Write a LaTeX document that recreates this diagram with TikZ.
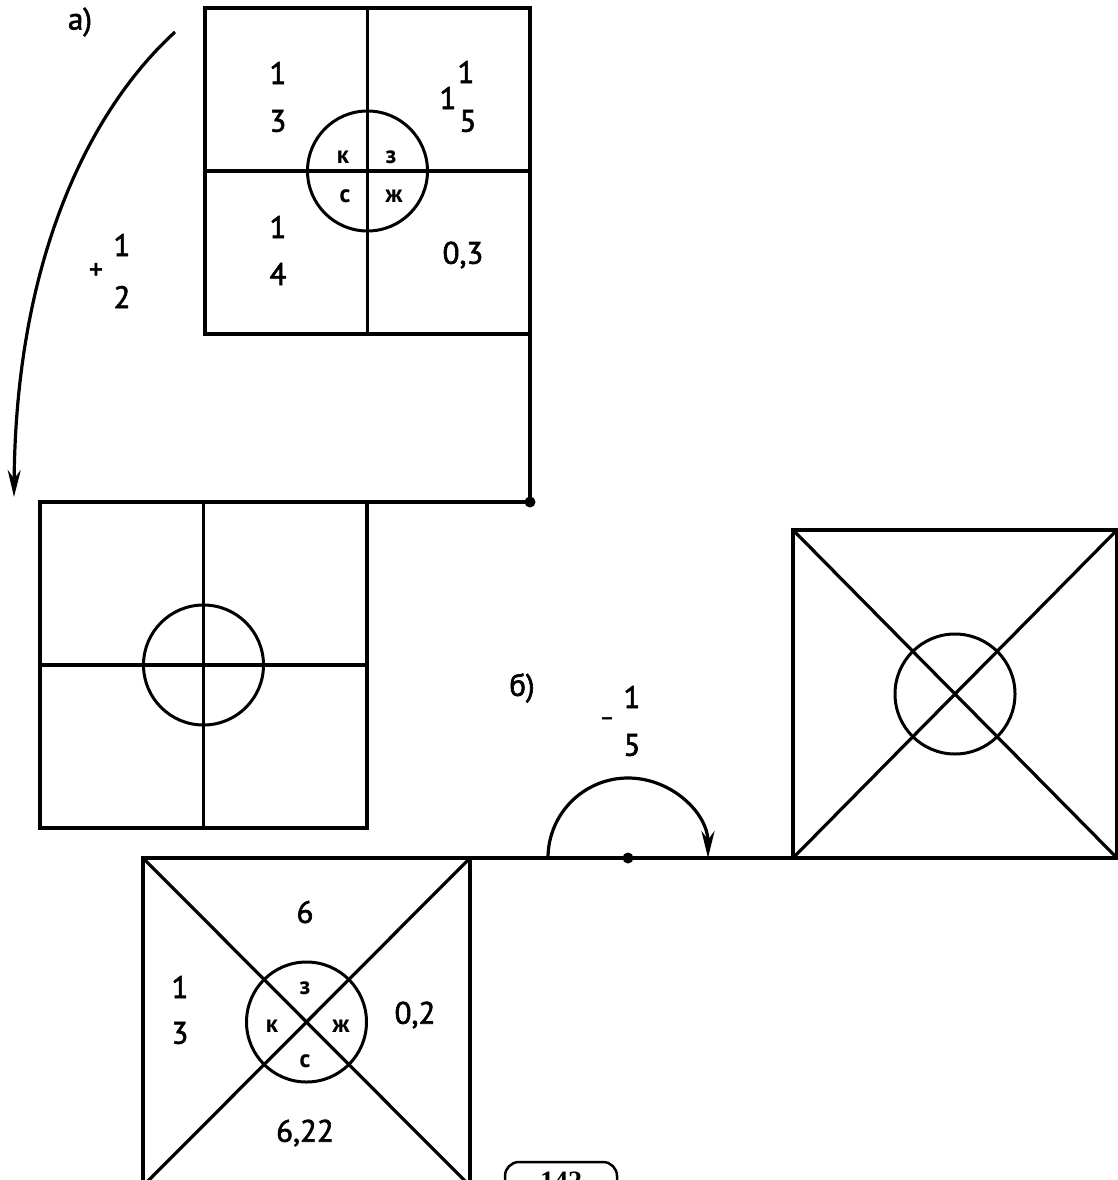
\documentclass[tikz,border=0pt]{standalone}
\usepackage{fontspec}
\setmainfont{PT Sans}
\newfontfamily\mfont[FakeBold=2]{PT Sans}
\newfontfamily\pnfont{Liberation Serif}
\usetikzlibrary{arrows.meta}
\begin{document}
\begin{tikzpicture}[x=1pt,y=-1pt,
  line width=3.2pt,
  sq/.style={draw, rectangle, inner sep=0pt, outer sep=0pt, line width=3.2pt},
  ring/.style={draw, circle, minimum size=120pt, inner sep=0pt, outer sep=0pt, line width=3pt},
  lbl/.style={font=\mfont\fontsize{31}{34}\selectfont, inner sep=0pt},
  let/.style={font=\fontsize{25}{28}\selectfont\bfseries, inner sep=0pt},
  tip/.style={-{Stealth[length=27pt,width=13pt]}}
]
\useasboundingbox (0,0) rectangle (1118,1180);
\clip (0,0) rectangle (1118,1180);

% ---------- a) ----------
\node[lbl] (la) at (80,22) {а)};

% box A
\node[sq, minimum width=325pt, minimum height=326pt] (A) at (367.5,171) {};
\draw (A.north) -- (A.south);
\draw (A.west) -- (A.east);
\node[ring] (Ac) at (A.center) {};
\node[lbl] (A1a) at (278,73) {1};
\node[lbl] (A1b) at (278,121) {3};
\node[lbl] (A2a) at (448,98) {1};
\node[lbl] (A2b) at (466,72) {1};
\node[lbl] (A2c) at (468,121) {5};
\node[lbl] (A3a) at (278,227) {1};
\node[lbl] (A3b) at (278,274) {4};
\node[lbl] (A4) at (463,255) {0,3};
\node[let] (Ak) at (343,157) {к};
\node[let] (Az) at (391,157) {з};
\node[let] (As) at (345,196) {с};
\node[let] (Aj) at (394,196) {ж};

% curved arrow + 1/2
\coordinate (s1) at (175,32);
\coordinate (e1) at (14,497);
\draw[tip] (s1) .. controls (95,105) and (16,250) .. (e1);
\node[lbl] (pl) at (96,271) {\fontsize{28}{30}\selectfont +};
\node[lbl] (pl1) at (122,245) {1};
\node[lbl] (pl2) at (122,297) {2};

% box B
\node[sq, minimum width=327pt, minimum height=326pt] (B) at (203.5,665) {};
\draw (B.north) -- (B.south);
\draw (B.west) -- (B.east);
\node[ring] (Bc) at (B.center) {};

% connector A -> B
\coordinate (j1) at (530,502);
\draw[line cap=rect] (A.south east) -- (j1) -- (B.north east);
\fill (j1) circle[radius=5.5pt];

% ---------- б) ----------
\node[lbl] (lb) at (522,688) {б)};
\node[lbl] (mi) at (607,721) {\fontsize{22}{24}\selectfont –};
\node[lbl] (mi1) at (632,697) {1};
\node[lbl] (mi2) at (632,745) {5};

% box D
\node[sq, minimum width=324pt, minimum height=328pt] (D) at (955,694) {};
\draw (D.north west) -- (D.south east);
\draw (D.north east) -- (D.south west);
\node[ring] (Dc) at (D.center) {};

% box C
\node[sq, minimum width=327pt, minimum height=328pt] (C) at (306.5,1022) {};
\draw (C.north west) -- (C.south east);
\draw (C.north east) -- (C.south west);
\node[ring] (Cc) at (C.center) {};
\node[lbl] (C6) at (305,912) {6};
\node[lbl] (C1a) at (180,987) {1};
\node[lbl] (C1b) at (180,1033) {3};
\node[lbl] (C02) at (415,1015) {0,2};
\node[lbl] (C622) at (305,1133) {6,22};
\node[let] (Cz) at (305,988) {з};
\node[let] (Ck) at (272,1026) {к};
\node[let] (Cj) at (341,1026) {ж};
\node[let] (Cs) at (305,1061) {с};

% connector C -> D with rotation arc
\draw (C.north east) -- (D.south west);
\coordinate (pivot) at (628,858);
\fill (pivot) circle[radius=5.5pt];
\coordinate (arcL) at (548,858);
\draw[tip] (arcL) arc[start angle=180, end angle=0, radius=80pt];

% page number
\draw[line width=2.5pt, rounded corners=14pt] (505,1162) rectangle (617,1215);
\node[font=\pnfont\bfseries\fontsize{28}{30}\selectfont, inner sep=0pt, anchor=base] (pn) at (561,1190) {142};
\end{tikzpicture}
\end{document}
